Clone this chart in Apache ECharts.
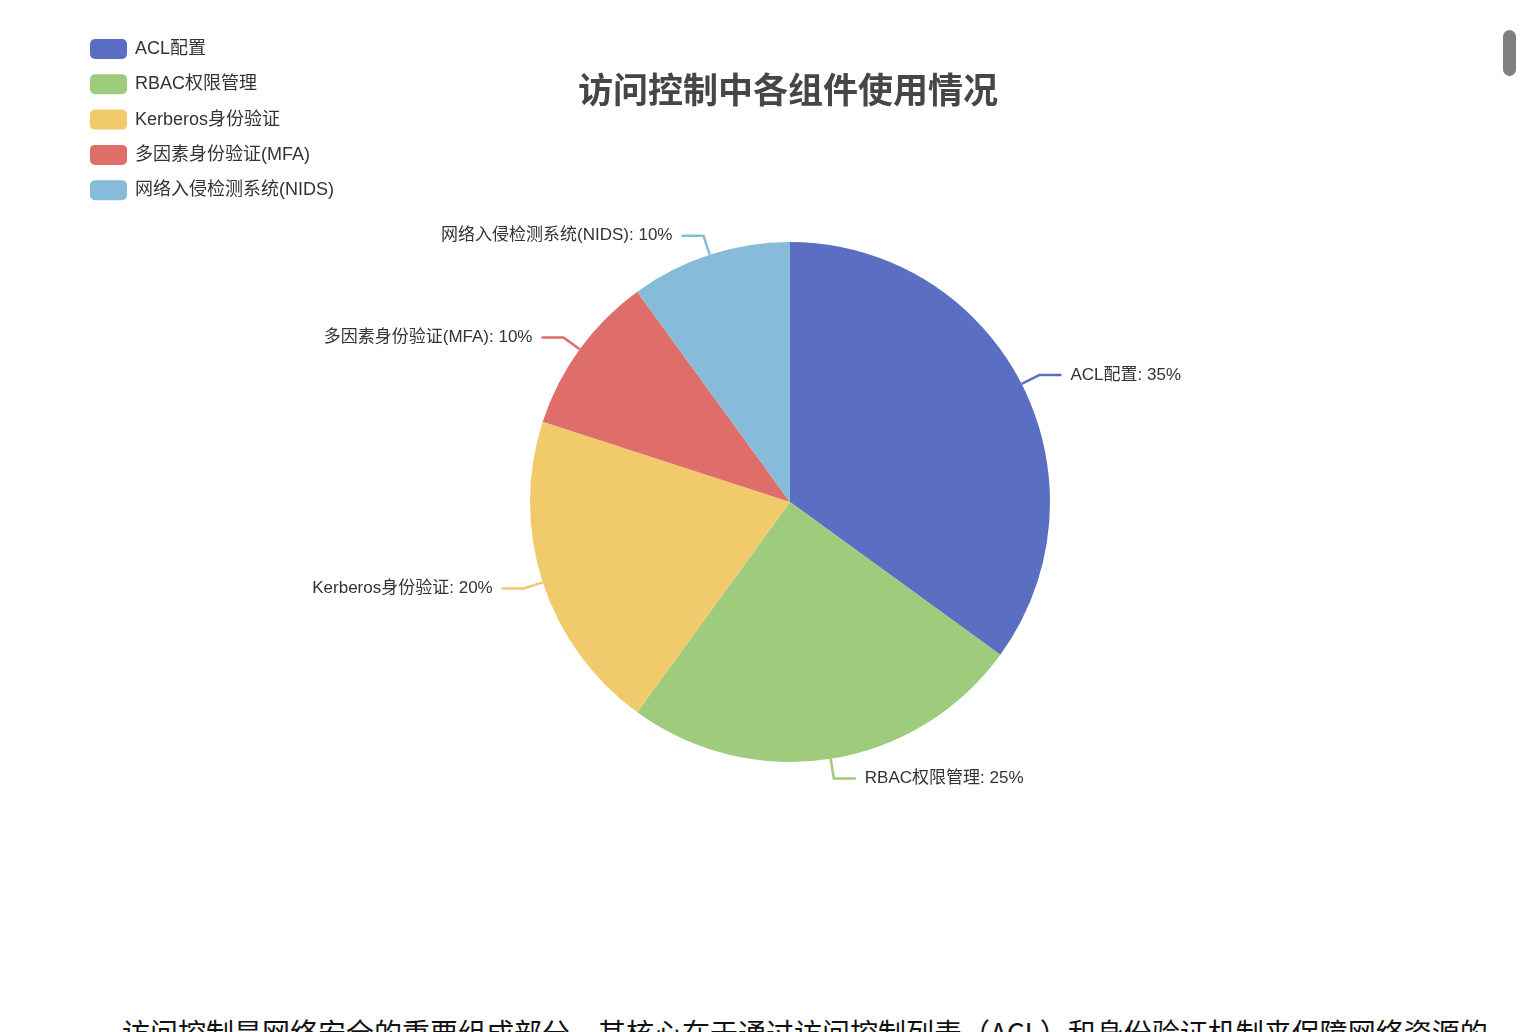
<!DOCTYPE html>
<html lang="zh">
<head>
	<meta charset="UTF-8">
	<title>访问控制</title>
	<style type="text/css">
		html, body { margin: 0; padding: 0; background: #fff; overflow: hidden; }
		#main { width: 1524px; height: 1000px; }
		#note {
			position: absolute; left: 122px; top: 1012px; white-space: nowrap;
			font-family: "Noto Sans CJK SC", sans-serif; font-size: 28px; color: #111;
		}
		#bar {
			position: absolute; left: 1503px; top: 30px; width: 13px; height: 46px;
			border-radius: 7px; background: #7f7f7f;
		}
	</style>
	<script type="text/javascript" src="https://cdn.jsdelivr.net/npm/echarts@6/dist/echarts.min.js"></script>
</head>
<body>
	<div id="main"></div>
	<div id="note">访问控制是网络安全的重要组成部分，其核心在于通过访问控制列表（ACL）和身份验证机制来保障网络资源的</div>
	<div id="bar"></div>

	<script type="text/javascript">
var names = ['ACL配置', 'RBAC权限管理', 'Kerberos身份验证', '多因素身份验证(MFA)', '网络入侵检测系统(NIDS)'];
var values = [35, 25, 20, 10, 10];
var colors = ['#5b6fc2', '#9ecb7c', '#f1ca6b', '#df6e6a', '#86bcd9'];

var font = '"Liberation Sans", "Noto Sans CJK SC", sans-serif';
var chart = echarts.init(document.getElementById('main'));

var data = names.map(function(n, i) {
    return { name: n, value: values[i] };
});

chart.setOption({
    color: colors,
    textStyle: { fontFamily: font },
    title: {
        text: '访问控制中各组件使用情况',
        left: 573,
        top: 71,
        textStyle: { fontSize: 35, fontWeight: 'bold', color: '#464646', fontFamily: font }
    },
    legend: {
        orient: 'vertical',
        left: 85,
        top: 34,
        itemWidth: 37,
        itemHeight: 20,
        itemGap: 15.3,
        textStyle: { fontSize: 18, color: '#333', fontFamily: font, padding: [0, 0, 0, 3] },
        data: names
    },
    series: [{
        type: 'pie',
        center: [790, 502],
        radius: 260,
        startAngle: 90,
        label: {
            formatter: '{b}: {d}%',
            fontSize: 17,
            color: '#333',
            fontFamily: font,
            distanceToLabelLine: 9
        },
        labelLine: { length: 20, length2: 22, lineStyle: { width: 2.5 } },
        data: data
    }]
});
	</script>
</body>
</html>
